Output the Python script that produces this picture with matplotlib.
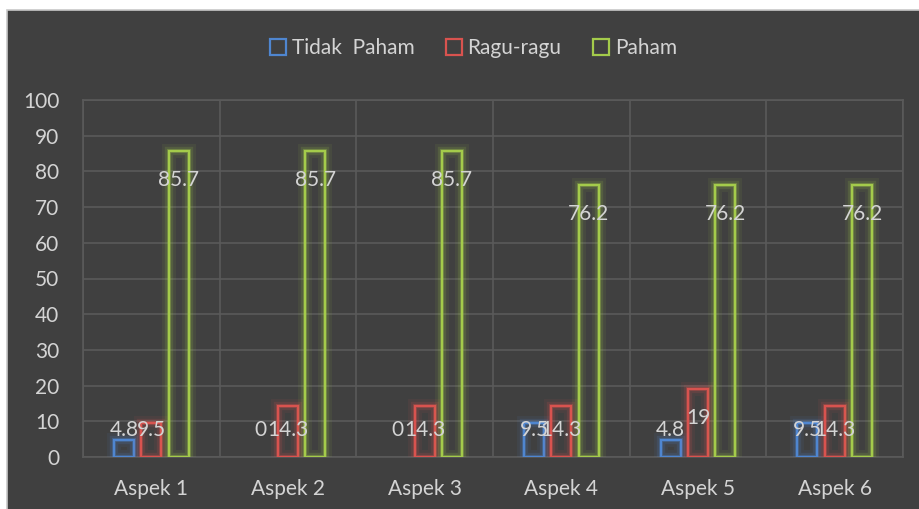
import matplotlib.pyplot as plt
import matplotlib.patheffects as pe
from matplotlib.patches import Rectangle, Patch
import numpy as np

plt.rcParams['font.family'] = ['Lato', 'DejaVu Sans']

aspects = ["Aspek 1", "Aspek 2", "Aspek 3", "Aspek 4", "Aspek 5", "Aspek 6"]
tidak_paham = [4.8, 0, 0, 9.5, 4.8, 9.5]
ragu_ragu = [9.5, 14.3, 14.3, 14.3, 19, 14.3]
paham = [85.7, 85.7, 85.7, 76.2, 76.2, 76.2]
series_names = ["Tidak  Paham", "Ragu-ragu", "Paham"]
colors = ["#4F86D0", "#D9534F", "#A4CB4B"]

bg = "#404040"
grid_col = "#5a5a5a"
text_col = "#d4d4d4"

fig = plt.figure(figsize=(9.19, 5.09), dpi=100)
fig.patch.set_facecolor("white")
fig.patches.append(Rectangle((7 / 919, -0.01), 1.0, 1 - 10 / 509 + 0.01,
                             transform=fig.transFigure, facecolor=bg,
                             edgecolor="#c8c8c8", linewidth=1.2, zorder=-10))

ax = fig.add_axes([83 / 919, 1 - 457 / 509, (903 - 83) / 919, (457 - 100) / 509])
ax.set_zorder(1)
ax.set_facecolor(bg)

x = np.arange(len(aspects))
width = 0.146
step = 0.2
all_series = [tidak_paham, ragu_ragu, paham]

for i, (vals, col) in enumerate(zip(all_series, colors)):
    pos = x + (i - 1) * step
    bars = ax.bar(pos, vals, width, facecolor="none", edgecolor=col,
                  linewidth=1.6, zorder=3)
    for b, v in zip(bars, vals):
        if v == 0:
            b.set_visible(False)  # excel draws nothing for empty bars
            continue
        b.set_path_effects([
            pe.Stroke(linewidth=10, foreground=col, alpha=0.08),
            pe.Stroke(linewidth=6, foreground=col, alpha=0.15),
            pe.Stroke(linewidth=3, foreground=col, alpha=0.3),
            pe.Normal(),
        ])
    for p, v in zip(pos, vals):
        lbl = f"{v:g}"
        ax.text(p, max(v - 8.2, 7.6), lbl, ha="center", va="center",
                color=text_col, fontsize=15, zorder=5)

ax.set_xlim(-0.5, len(aspects) - 0.5)
ax.set_ylim(0, 100)
ax.set_yticks(range(0, 101, 10))
ax.set_xticks(x)
ax.set_xticklabels(aspects)
ax.set_xticks(np.arange(-0.5, len(aspects), 1), minor=True)
ax.tick_params(axis="both", which="both", length=0, colors=text_col, labelsize=15)
ax.tick_params(axis="y", pad=17)
ax.tick_params(axis="x", pad=16)
ax.grid(axis="y", color=grid_col, linewidth=1.2, zorder=1)
ax.grid(axis="x", which="minor", color=grid_col, linewidth=1.2, zorder=1)
ax.set_axisbelow(True)
for s in ax.spines.values():
    s.set_color(grid_col)
    s.set_linewidth(1.2)

handles = [Patch(facecolor="none", edgecolor=c, linewidth=1.6, label=n)
           for n, c in zip(series_names, colors)]
leg = fig.legend(handles=handles, loc="center", bbox_to_anchor=(0.515, 1 - 48 / 509),
                 ncol=3, frameon=False, fontsize=15, handlelength=0.8,
                 handleheight=0.8, handletextpad=0.25, columnspacing=1.5)
for t in leg.get_texts():
    t.set_color(text_col)

fig.savefig("out.png", dpi=100, facecolor=fig.get_facecolor())
